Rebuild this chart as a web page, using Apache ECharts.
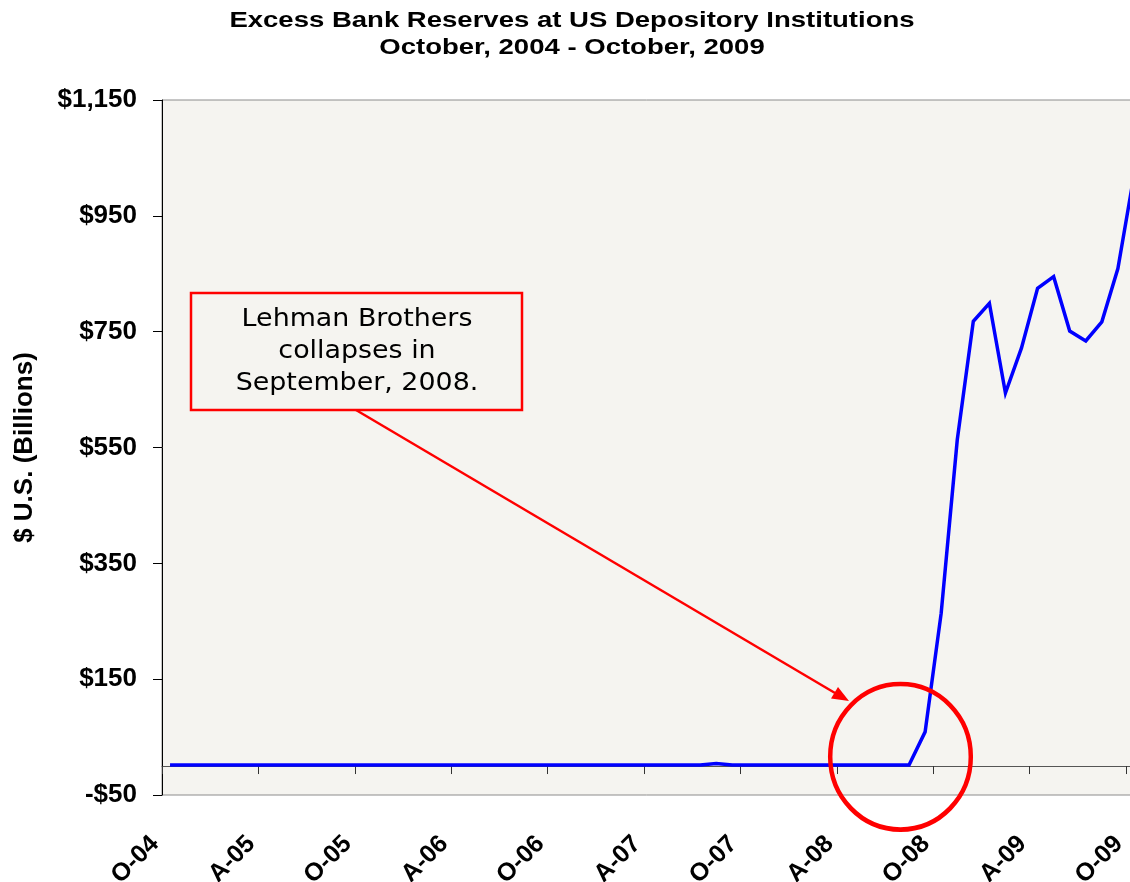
<!DOCTYPE html>
<html>
<head>
<meta charset="utf-8">
<script src="https://cdn.jsdelivr.net/npm/echarts@6/dist/echarts.min.js"></script>
<style>
  html, body { margin: 0; padding: 0; background: #ffffff; }
  #chart { width: 1130px; height: 882px; }
</style>
</head>
<body>
<div id="chart"></div>
<script>
// ---- Data (monthly averages, $ billions), Oct 2004 .. Oct 2009 ----
const months = [
  'Oct-04','Nov-04','Dec-04',
  'Jan-05','Feb-05','Mar-05','Apr-05','May-05','Jun-05','Jul-05','Aug-05','Sep-05','Oct-05','Nov-05','Dec-05',
  'Jan-06','Feb-06','Mar-06','Apr-06','May-06','Jun-06','Jul-06','Aug-06','Sep-06','Oct-06','Nov-06','Dec-06',
  'Jan-07','Feb-07','Mar-07','Apr-07','May-07','Jun-07','Jul-07','Aug-07','Sep-07','Oct-07','Nov-07','Dec-07',
  'Jan-08','Feb-08','Mar-08','Apr-08','May-08','Jun-08','Jul-08','Aug-08','Sep-08','Oct-08','Nov-08','Dec-08',
  'Jan-09','Feb-09','Mar-09','Apr-09','May-09','Jun-09','Jul-09','Aug-09','Sep-09','Oct-09'
];
const excessReserves = [
  1.8, 1.7, 1.9,
  1.8, 1.6, 1.7, 1.8, 1.7, 1.8, 1.7, 1.8, 1.9, 1.8, 1.7, 1.9,
  1.8, 1.7, 1.7, 1.8, 1.7, 1.8, 1.7, 1.8, 1.8, 1.7, 1.7, 1.9,
  1.8, 1.7, 1.7, 1.8, 1.7, 1.8, 1.9, 4.3, 2.0, 1.8, 1.8, 1.9,
  1.8, 1.7, 1.8, 1.9, 1.9, 2.0, 1.9, 1.9, 59, 264, 563, 768,
  799, 644, 722, 825, 845, 751, 734, 767, 859, 1020
];
// x tick labels every 6 months (at month index 0, 6, 12, ...)
const xTickLabels = ['O-04','A-05','O-05','A-06','O-06','A-07','O-07','A-08','O-08','A-09','O-09'];
const yTickValues = [-50, 150, 350, 550, 750, 950, 1150];
const yTickLabels = ['-$50','$150','$350','$550','$750','$950','$1,150'];

const titleLines = ['Excess Bank Reserves at US Depository Institutions', 'October, 2004 - October, 2009'];
const yAxisTitle = '$ U.S. (Billions)';
const noteText = ['Lehman Brothers', 'collapses in', 'September, 2008.'];

// each monthly observation is plotted at the middle of its month
const seriesData = excessReserves.map((v, i) => [i + 0.5, v]);

const axisFont = 'Liberation Sans, Arial, sans-serif';
const chart = echarts.init(document.getElementById('chart'), null, { renderer: 'canvas' });

const xLabelFormatter = function (v) {
  if (Math.abs(v % 6) < 1e-9) {
    const k = Math.round(v / 6);
    return xTickLabels[k] !== undefined ? xTickLabels[k] : '';
  }
  return '';
};

chart.setOption({
  backgroundColor: '#ffffff',
  animation: false,
  grid: {
    left: 162,
    top: 100,
    right: -12,
    bottom: 87,
    show: true,
    backgroundColor: '#F5F4F0',
    borderColor: '#8c8c8c',
    borderWidth: 1,
    containLabel: false,
    outerBoundsMode: 'none'
  },
  xAxis: [
    {
      type: 'value',
      gridIndex: 0,
      position: 'bottom',
      min: 0,
      max: 61,
      interval: 6,
      axisLine: { show: true, onZero: true, lineStyle: { color: '#555555', width: 1 } },
      axisTick: { show: true, inside: false, length: 8, lineStyle: { color: '#333333', width: 1 } },
      axisLabel: { show: false },
      splitLine: { show: false }
    },
    {
      type: 'value',
      gridIndex: 0,
      position: 'bottom',
      min: 0,
      max: 61,
      interval: 6,
      axisLine: { show: false, onZero: false },
      axisTick: { show: false },
      splitLine: { show: false },
      axisLabel: {
        show: true,
        rotate: 45,
        margin: 38,
        padding: [0, 10, 0, 0],
        formatter: xLabelFormatter,
        showMaxLabel: false,
        fontFamily: axisFont,
        fontWeight: 'bold',
        fontSize: 25,
        color: '#000000'
      }
    }
  ],
  yAxis: {
    type: 'value',
    min: -50,
    max: 1150,
    interval: 200,
    name: yAxisTitle,
    nameLocation: 'middle',
    nameRotate: 90,
    nameGap: 137,
    nameTextStyle: {
      fontFamily: axisFont,
      fontWeight: 'bold',
      fontSize: 26,
      color: '#000000',
      verticalAlign: 'middle',
      align: 'center'
    },
    axisLine: { show: true, onZero: false, lineStyle: { color: '#000000', width: 1 } },
    axisTick: { show: true, inside: false, length: 9, lineStyle: { color: '#000000', width: 1 } },
    splitLine: { show: false },
    axisLabel: {
      margin: 25,
      fontFamily: axisFont,
      fontWeight: 'bold',
      fontSize: 26,
      color: '#000000',
      formatter: function (v) {
        const k = yTickValues.indexOf(v);
        return k >= 0 ? yTickLabels[k] : '';
      }
    }
  },
  series: [
    {
      type: 'line',
      xAxisIndex: 0,
      yAxisIndex: 0,
      data: seriesData,
      showSymbol: false,
      symbol: 'none',
      smooth: false,
      lineStyle: { color: '#0000FF', width: 3.5, join: 'miter' },
      z: 3
    }
  ],
  graphic: [
    {
      type: 'text',
      z: 101,
      x: 572,
      y: 21,
      scaleX: 1.28,
      style: {
        text: titleLines[0],
        font: 'bold 21.5px "Liberation Sans", Arial, sans-serif',
        fill: '#000000',
        align: 'center',
        verticalAlign: 'middle'
      }
    },
    {
      type: 'text',
      z: 101,
      x: 572,
      y: 48,
      scaleX: 1.28,
      style: {
        text: titleLines[1],
        font: 'bold 21.5px "Liberation Sans", Arial, sans-serif',
        fill: '#000000',
        align: 'center',
        verticalAlign: 'middle'
      }
    },
    {
      type: 'rect',
      z: 100,
      shape: { x: 191, y: 293, width: 331, height: 117 },
      style: { fill: '#F5F4F0', stroke: '#FF0000', lineWidth: 2.5 }
    },
    {
      type: 'text',
      z: 101,
      x: 357,
      y: 352,
      scaleX: 1.12,
      style: {
        text: noteText.join('\n'),
        font: '24px "DejaVu Sans", Verdana, sans-serif',
        fill: '#000000',
        align: 'center',
        verticalAlign: 'middle',
        lineHeight: 32
      }
    },
    {
      type: 'line',
      z: 100,
      shape: { x1: 356, y1: 410, x2: 835, y2: 693 },
      style: { stroke: '#FF0000', lineWidth: 2.5 }
    },
    {
      type: 'polygon',
      z: 100,
      shape: { points: [[849, 701], [831, 698.5], [838, 687]] },
      style: { fill: '#FF0000' }
    },
    {
      type: 'circle',
      z: 100,
      x: 900.5,
      y: 756.8,
      scaleY: 1.035,
      shape: { cx: 0, cy: 0, r: 70.3 },
      style: { fill: 'none', stroke: '#FF0000', lineWidth: 4.5 }
    }
  ]
});
</script>
</body>
</html>
